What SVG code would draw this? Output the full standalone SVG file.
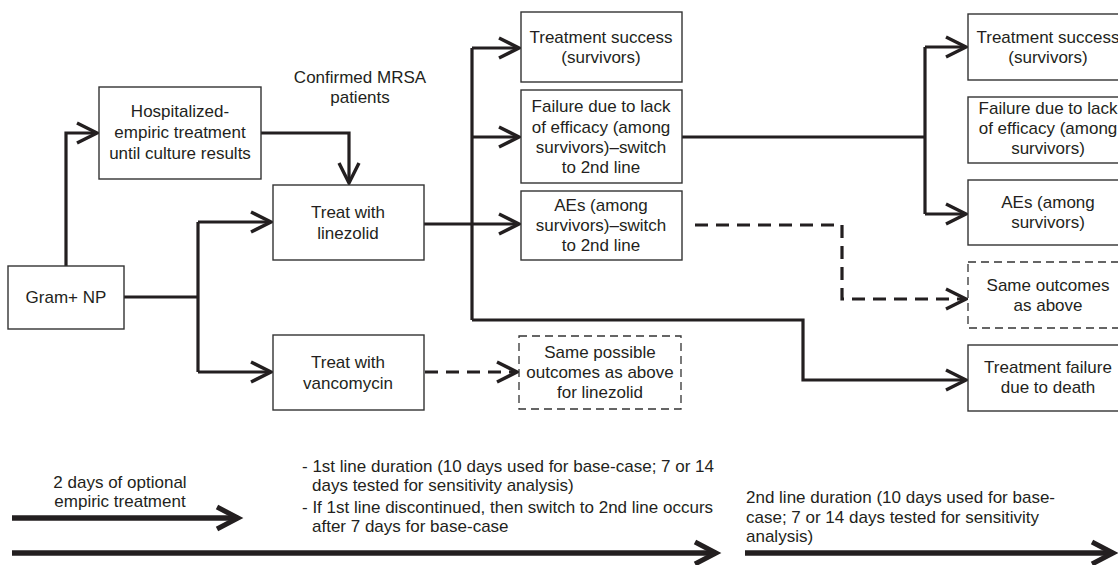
<svg xmlns="http://www.w3.org/2000/svg" width="1118" height="565" viewBox="0 0 1118 565">
<style>
  .box { fill: #ffffff; stroke: #333333; stroke-width: 1.4; }
  .dbox { fill: #ffffff; stroke: #333333; stroke-width: 1.3; stroke-dasharray: 8 5; }
  .t { font-family: "Liberation Sans", Arial, sans-serif; font-size: 17px; fill: #231f20; text-anchor: middle; }
  .tl { font-family: "Liberation Sans", Arial, sans-serif; font-size: 17px; fill: #231f20; }
  .c { fill: none; stroke: #231f20; stroke-width: 3.2; stroke-linejoin: miter; }
  .cd { fill: none; stroke: #231f20; stroke-width: 3.2; stroke-dasharray: 13 8; }
  .big { fill: none; stroke: #231f20; stroke-width: 5.5; }
</style>
<defs>
  <marker id="ah" markerUnits="userSpaceOnUse" viewBox="-26 -14 30 28" refX="0" refY="0" markerWidth="30" markerHeight="28" orient="auto" overflow="visible">
    <path d="M-20,-10 L0,0 L-20,10" fill="none" stroke="#231f20" stroke-width="3.4" stroke-dasharray="none"/>
  </marker>
  <marker id="ahb" markerUnits="userSpaceOnUse" viewBox="-30 -16 34 32" refX="0" refY="0" markerWidth="34" markerHeight="32" orient="auto" overflow="visible">
    <path d="M-21,-11 L0,0 L-21,11" fill="none" stroke="#231f20" stroke-width="5" stroke-dasharray="none"/>
  </marker>
</defs>
<rect width="1118" height="565" fill="#ffffff"/>

<g id="connectors">
  <polyline class="c" points="66,266 66,133 97,133" marker-end="url(#ah)"/>
  <polyline class="c" points="261,133 349,133 349,183" marker-end="url(#ah)"/>
  <polyline class="c" points="124,297 198,297"/>
  <polyline class="c" points="198,222 198,372"/>
  <polyline class="c" points="198,222 271,222" marker-end="url(#ah)"/>
  <polyline class="c" points="198,372 271,372" marker-end="url(#ah)"/>
  <polyline class="c" points="424,224 519,224" marker-end="url(#ah)"/>
  <polyline class="c" points="472,48 472,320"/>
  <polyline class="c" points="472,48 519,48" marker-end="url(#ah)"/>
  <polyline class="c" points="472,137 519,137" marker-end="url(#ah)"/>
  <polyline class="c" points="472,320 803,320 803,380 966,380" marker-end="url(#ah)"/>
  <polyline class="c" points="682,137 925,137"/>
  <polyline class="c" points="925,47 925,214"/>
  <polyline class="c" points="925,47 966,47" marker-end="url(#ah)"/>
  <polyline class="c" points="925,214 966,214" marker-end="url(#ah)"/>
  <polyline class="cd" points="695,225 842,225 842,299 966,299" marker-end="url(#ah)"/>
  <polyline class="cd" points="425,372 517,372" marker-end="url(#ah)"/>
</g>

<g id="gram-np">
  <rect class="box" x="8" y="266" width="116" height="63"/>
  <text class="t" x="66" y="303">Gram+ NP</text>
</g>
<g id="hospitalized">
  <rect class="box" x="99" y="87" width="162" height="92"/>
  <text class="t" x="180" y="117">Hospitalized-</text>
  <text class="t" x="180" y="138">empiric treatment</text>
  <text class="t" x="180" y="159">until culture results</text>
</g>
<g id="confirmed-label">
  <text class="t" x="360" y="83">Confirmed MRSA</text>
  <text class="t" x="360" y="103">patients</text>
</g>
<g id="linezolid">
  <rect class="box" x="273" y="185" width="151" height="75"/>
  <text class="t" x="348" y="218">Treat with</text>
  <text class="t" x="348" y="239">linezolid</text>
</g>
<g id="vancomycin">
  <rect class="box" x="273" y="335" width="151" height="75"/>
  <text class="t" x="348" y="368">Treat with</text>
  <text class="t" x="348" y="389">vancomycin</text>
</g>
<g id="ts1">
  <rect class="box" x="521" y="12" width="161" height="70"/>
  <text class="t" x="601" y="43">Treatment success</text>
  <text class="t" x="601" y="63">(survivors)</text>
</g>
<g id="fail1">
  <rect class="box" x="521" y="90" width="161" height="93"/>
  <text class="t" x="601" y="112">Failure due to lack</text>
  <text class="t" x="601" y="133">of efficacy (among</text>
  <text class="t" x="601" y="153">survivors)–switch</text>
  <text class="t" x="601" y="173">to 2nd line</text>
</g>
<g id="aes1">
  <rect class="box" x="521" y="191" width="161" height="69"/>
  <text class="t" x="601" y="211">AEs (among</text>
  <text class="t" x="601" y="231">survivors)–switch</text>
  <text class="t" x="601" y="251">to 2nd line</text>
</g>
<g id="same-possible">
  <rect class="dbox" x="519" y="336" width="162" height="73"/>
  <text class="t" x="600" y="358">Same possible</text>
  <text class="t" x="600" y="378">outcomes as above</text>
  <text class="t" x="600" y="398">for linezolid</text>
</g>
<g id="ts2">
  <rect class="box" x="968" y="14" width="160" height="66"/>
  <text class="t" x="1048" y="43">Treatment success</text>
  <text class="t" x="1048" y="63">(survivors)</text>
</g>
<g id="fail2">
  <rect class="box" x="968" y="97" width="160" height="66"/>
  <text class="t" x="1048" y="114">Failure due to lack</text>
  <text class="t" x="1048" y="134">of efficacy (among</text>
  <text class="t" x="1048" y="154">survivors)</text>
</g>
<g id="aes2">
  <rect class="box" x="968" y="180" width="160" height="65"/>
  <text class="t" x="1048" y="208">AEs (among</text>
  <text class="t" x="1048" y="228">survivors)</text>
</g>
<g id="same-outcomes">
  <rect class="dbox" x="968" y="262" width="160" height="66"/>
  <text class="t" x="1048" y="291">Same outcomes</text>
  <text class="t" x="1048" y="311">as above</text>
</g>
<g id="death">
  <rect class="box" x="968" y="345" width="160" height="66"/>
  <text class="t" x="1048" y="373">Treatment failure</text>
  <text class="t" x="1048" y="393">due to death</text>
</g>

<g id="timeline">
  <line class="big" x1="12" y1="518" x2="238" y2="518" marker-end="url(#ahb)"/>
  <line class="big" x1="12" y1="553" x2="716" y2="553" marker-end="url(#ahb)"/>
  <line class="big" x1="745" y1="553" x2="1113" y2="553" marker-end="url(#ahb)"/>
  <text class="t" x="120" y="488">2 days of optional</text>
  <text class="t" x="120" y="507">empiric treatment</text>
  <text class="tl" x="302" y="472">- 1st line duration (10 days used for base-case; 7 or 14</text>
  <text class="tl" x="312" y="491">days tested for sensitivity analysis)</text>
  <text class="tl" x="302" y="513">- If 1st line discontinued, then switch to 2nd line occurs</text>
  <text class="tl" x="312" y="532">after 7 days for base-case</text>
  <text class="tl" x="746" y="503">2nd line duration (10 days used for base-</text>
  <text class="tl" x="746" y="523">case; 7 or 14 days tested for sensitivity</text>
  <text class="tl" x="746" y="542">analysis)</text>
</g>
</svg>
